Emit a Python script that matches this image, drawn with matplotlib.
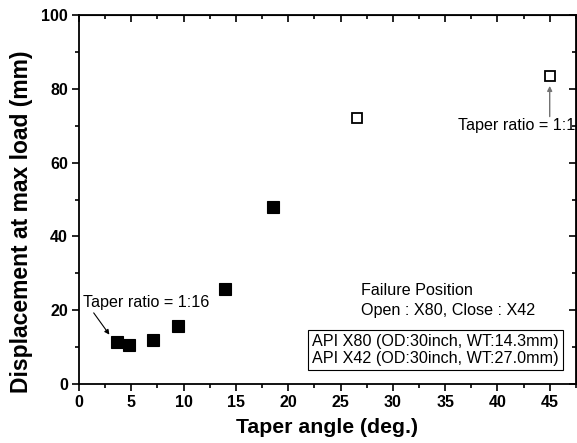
import matplotlib as mpl
import matplotlib.pyplot as plt
from matplotlib.ticker import MultipleLocator

mpl.rcParams.update({
    "font.family": ["Liberation Sans", "DejaVu Sans"],
    "font.size": 11.6,
})

# X42 (filled, failure at close) and X80 (open, failure at open)
angle_close = [3.6, 4.8, 7.1, 9.5, 14.0, 18.5]
disp_close = [11.5, 10.5, 12.0, 15.7, 25.8, 48.0]
angle_open = [26.6, 45.0]
disp_open = [72.0, 83.6]

fig = plt.figure(figsize=(5.77, 4.43), dpi=100)
ax = fig.add_axes([0.137, 0.133, 0.861, 0.833])

ax.plot(angle_close, disp_close, linestyle="none", marker="s", ms=8.5,
        color="black", markeredgewidth=0.8)
ax.plot(angle_open, disp_open, linestyle="none", marker="s", ms=7,
        markerfacecolor="white", markeredgecolor="black", markeredgewidth=1.3)

ax.set_xlim(0, 47.5)
ax.set_ylim(0, 100)
ax.xaxis.set_major_locator(MultipleLocator(5))
ax.xaxis.set_minor_locator(MultipleLocator(2.5))
ax.yaxis.set_major_locator(MultipleLocator(20))
ax.yaxis.set_minor_locator(MultipleLocator(10))

for side in ax.spines.values():
    side.set_linewidth(1.3)
ax.tick_params(which="both", direction="out", width=1.2, top=False, right=False)
ax.tick_params(which="major", length=5, labelsize=11.5, pad=3)
ax.tick_params(which="minor", length=3)
for lab in ax.get_xticklabels() + ax.get_yticklabels():
    lab.set_fontweight("bold")

# inward ticks on top and right, as in Origin
sec_x = ax.secondary_xaxis("top")
sec_x.xaxis.set_major_locator(MultipleLocator(5))
sec_x.xaxis.set_minor_locator(MultipleLocator(2.5))
sec_x.tick_params(which="both", direction="in", width=1.2, labeltop=False)
sec_x.tick_params(which="major", length=5)
sec_x.tick_params(which="minor", length=3)
sec_y = ax.secondary_yaxis("right")
sec_y.yaxis.set_major_locator(MultipleLocator(20))
sec_y.yaxis.set_minor_locator(MultipleLocator(10))
sec_y.tick_params(which="both", direction="in", width=1.2, labelright=False)
sec_y.tick_params(which="major", length=5)
sec_y.tick_params(which="minor", length=3)

ax.set_xlabel("Taper angle (deg.)", fontsize=15.3, fontweight="bold")
ax.xaxis.set_label_coords(0.5, -0.119, transform=ax.transAxes)
ax.xaxis.label.set_va("center")
ax.set_ylabel("Displacement at max load (mm)", fontsize=16.5, fontweight="bold")
ax.yaxis.set_label_coords(-0.115, 0.44, transform=ax.transAxes)
ax.yaxis.label.set_va("center")

ax.annotate("", xy=(2.9, 13.4), xytext=(1.4, 19.3),
            arrowprops=dict(arrowstyle="-|>", color="black", lw=0.8,
                            mutation_scale=7, shrinkA=0, shrinkB=0))
ax.text(0.4, 22.0, "Taper ratio = 1:16", ha="left", va="center")
ax.annotate("", xy=(45.0, 80.8), xytext=(45.0, 72.5),
            arrowprops=dict(arrowstyle="-|>", color="0.45", lw=1.0,
                            mutation_scale=7, shrinkA=0, shrinkB=0))
ax.text(36.2, 70.2, "Taper ratio = 1:1", ha="left", va="center")

ax.text(27.0, 25.3, "Failure Position", ha="left", va="center")
ax.text(27.0, 19.9, "Open : X80, Close : X42", ha="left", va="center")
ax.text(22.3, 9.2, "API X80 (OD:30inch, WT:14.3mm)\nAPI X42 (OD:30inch, WT:27.0mm)",
        ha="left", va="center", linespacing=1.15,
        bbox=dict(boxstyle="square,pad=0.25", facecolor="white",
                  edgecolor="black", lw=0.8))

fig.savefig("out.png", dpi=100)
